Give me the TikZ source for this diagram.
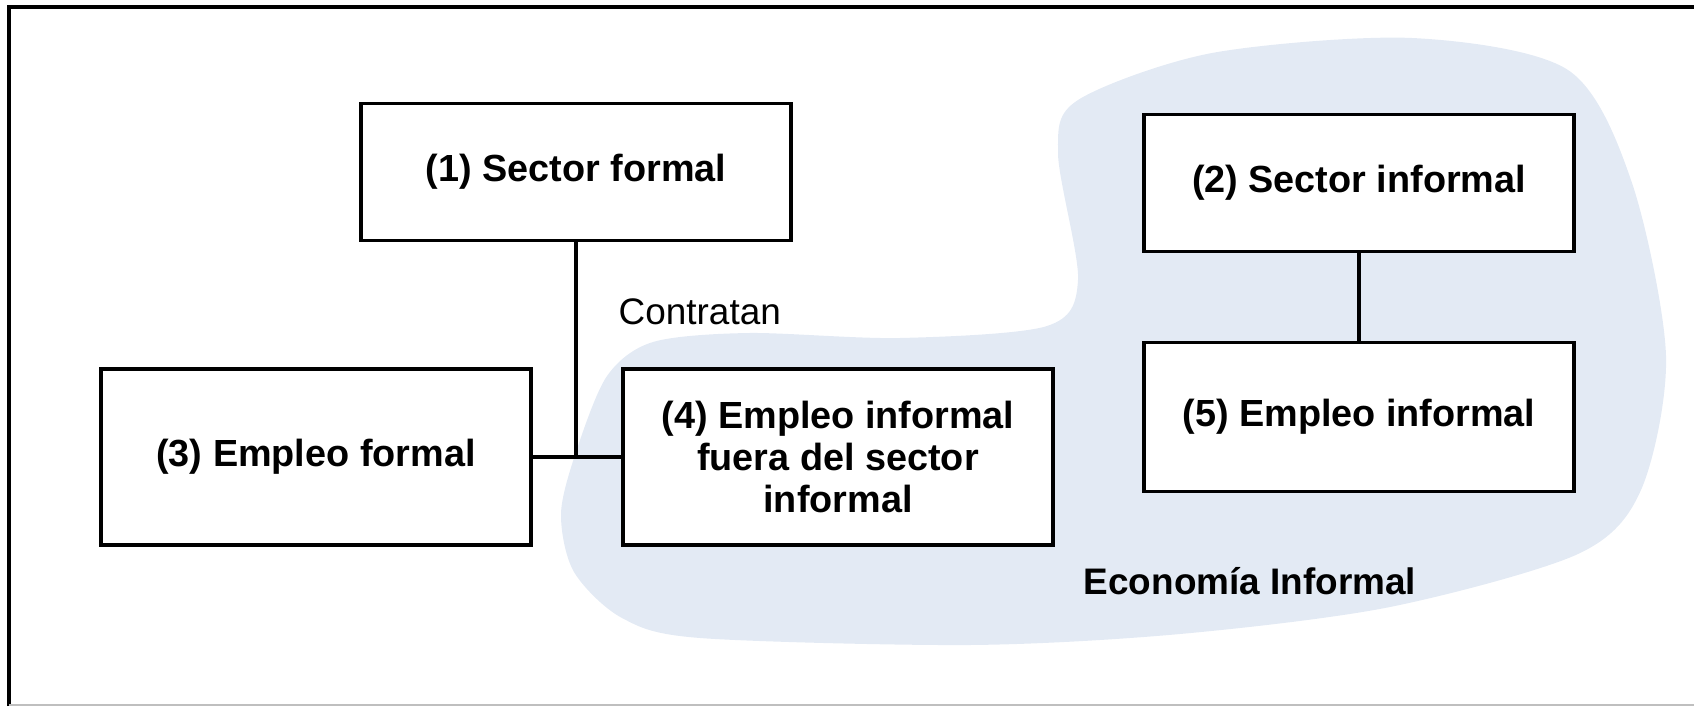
\documentclass[tikz,border=0pt]{standalone}
\usepackage{fontspec}
\setmainfont{Liberation Sans}
\definecolor{azulclaro}{RGB}{227,234,244}

\begin{document}
\begin{tikzpicture}[x=0.01cm, y=-0.01cm,
caja/.style={rectangle, draw=black, fill=white, line width=1.1pt, minimum width=4.3cm, inner sep=2pt, align=center, font=\fontsize{10.75}{12}\selectfont\bfseries},
linea/.style={line width=0.9pt}
]
    \useasboundingbox (0,0) rectangle (1694,706);
    % marco
    \draw [line width=1.1pt] (9,706) -- (9,7) -- (1694,7);
    \draw [black!25, line width=0.3pt] (9,705) -- (1694,705);

    % zona de la economia informal
    \fill [azulclaro] plot [smooth cycle] coordinates {(1412,38) (1568,70) (1632,183) (1666,356) (1641,490) (1578,554) (1390,607) (1180,634) (970,645) (700,638) (622,618) (574,572) (561,514) (576,452) (607,376) (653,342) (749,333) (900,338) (1047,326) (1078,280) (1058,153) (1078,100) (1212,53)};

    \node [caja, minimum height=1.37cm] (s1) at (576,172) {(1) Sector formal};
    \node [caja, minimum height=1.37cm] (s2) at (1359,183) {(2) Sector informal};
    \node [caja, minimum height=1.76cm] (e3) at (316,457) {(3) Empleo formal};
    \node [caja, minimum height=1.76cm] (e4) at (838,457) {(4) Empleo informal\\fuera del sector\\informal};
    \node [caja, minimum height=1.49cm] (e5) at (1359,417) {(5) Empleo informal};
    \coordinate (cruce) at (s1.south |- e3.east);

    \draw [linea] (s1) -- (cruce);
    \draw [linea] (e3) -- (e4);
    \draw [linea] (s2) -- (e5);

    \node [anchor=base west, inner sep=0pt, font=\fontsize{10.5}{12}\selectfont] (contratan) at (618,324) {Contratan};
    \node [anchor=base west, inner sep=0pt, font=\fontsize{10.5}{12}\selectfont\bfseries] (economia) at (1083,594) {Economía Informal};
\end{tikzpicture}
\end{document}
